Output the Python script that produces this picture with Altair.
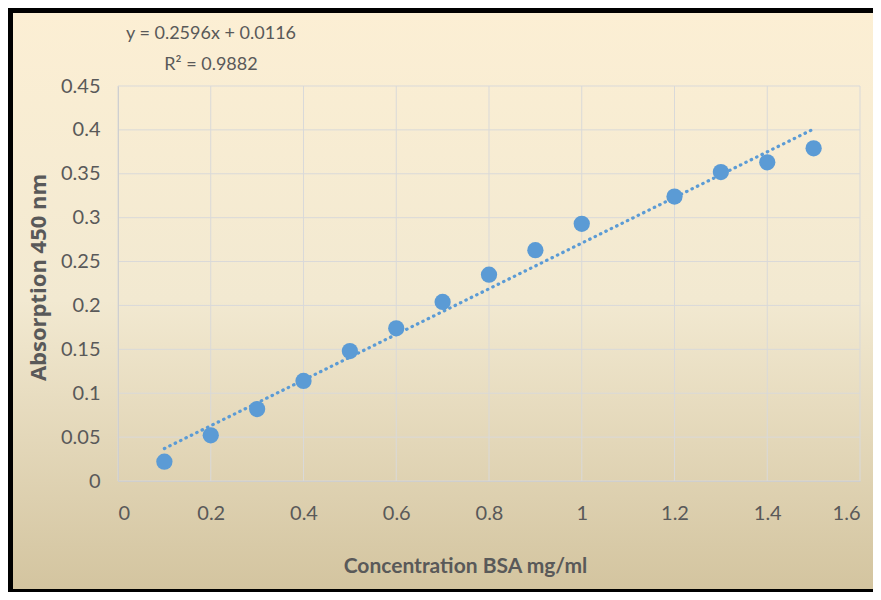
import altair as alt
import pandas as pd

# Data
conc = [0.1, 0.2, 0.3, 0.4, 0.5, 0.6, 0.7, 0.8, 0.9, 1.0, 1.2, 1.3, 1.4, 1.5]
absorb = [0.022, 0.052, 0.082, 0.114, 0.148, 0.174, 0.204, 0.235, 0.263, 0.293,
          0.324, 0.352, 0.363, 0.379]
trend_x = [0.1, 1.5]
trend_y = [0.037, 0.401]
x_ticks = [0, 0.2, 0.4, 0.6, 0.8, 1.0, 1.2, 1.4, 1.6]
y_ticks = [0, 0.05, 0.1, 0.15, 0.2, 0.25, 0.3, 0.35, 0.4, 0.45]
eq_line1 = "y = 0.2596x + 0.0116"
eq_line2 = "R² = 0.9882"

W, H = 742, 395
PAD = {"left": 110, "top": 78, "right": 13, "bottom": 111}
L, T = -PAD["left"], -PAD["top"]
R, B = W + PAD["right"], H + PAD["bottom"]

FONT = "Lato, sans-serif"
TXT = "#595959"
BLUE = "#5B9BD5"

pts = pd.DataFrame({"x": conc, "y": absorb})
trend = pd.DataFrame({"x": trend_x, "y": trend_y})
xg = pd.DataFrame({"x": x_ticks})
yg = pd.DataFrame({"y": y_ticks})
one = pd.DataFrame({"a": [0]})

xs = alt.Scale(domain=[0, 1.6], nice=False, zero=False)
ys = alt.Scale(domain=[0, 0.45], nice=False, zero=False)

xaxis = alt.Axis(values=x_ticks, format="~g", grid=False, ticks=False,
                 tickSize=0, domain=True, domainColor="#CFCFCF",
                 labelPadding=22, titleX=347, titleY=85,
                 titleBaseline="middle", titleAlign="center", zindex=1)
yaxis = alt.Axis(values=y_ticks, format="~g", grid=False, ticks=False,
                 tickSize=0, domain=True, domainColor="#CFCFCF",
                 labelPadding=18, titleX=-80, titleY=191,
                 titleBaseline="middle", titleAlign="center",
                 titleAngle=270, zindex=1)

bg = alt.Chart(one).mark_rect(
    fill=alt.Gradient(
        gradient="linear", x1=0, y1=0, x2=0, y2=1,
        stops=[alt.GradientStop(offset=0, color="#FCEFD4"),
               alt.GradientStop(offset=0.5, color="#F2E9D1"),
               alt.GradientStop(offset=1, color="#D3C49F")]),
).encode(x=alt.value(L), x2=alt.value(R), y=alt.value(T), y2=alt.value(B))

border_top = alt.Chart(one).mark_rect(color="#000000").encode(
    x=alt.value(L), x2=alt.value(R), y=alt.value(T), y2=alt.value(T + 5))
border_left = alt.Chart(one).mark_rect(color="#000000").encode(
    x=alt.value(L), x2=alt.value(L + 5), y=alt.value(T), y2=alt.value(B))
border_bottom = alt.Chart(one).mark_rect(color="#000000").encode(
    x=alt.value(L), x2=alt.value(R), y=alt.value(B - 3), y2=alt.value(B))

xgrid = alt.Chart(xg).mark_rule(color="#D9D9D9", strokeWidth=1).encode(
    x=alt.X("x:Q", scale=xs, title="Concentration BSA mg/ml", axis=xaxis),
    y=alt.value(0), y2=alt.value(H))
ygrid = alt.Chart(yg).mark_rule(color="#D9D9D9", strokeWidth=1).encode(
    y=alt.Y("y:Q", scale=ys, title="Absorption 450 nm", axis=yaxis),
    x=alt.value(0), x2=alt.value(W))

line = alt.Chart(trend).mark_line(
    color=BLUE, strokeWidth=3.2, strokeDash=[0.5, 5.5], strokeCap="round"
).encode(x=alt.X("x:Q", scale=xs, title="Concentration BSA mg/ml", axis=xaxis),
         y=alt.Y("y:Q", scale=ys, title="Absorption 450 nm", axis=yaxis))

points = alt.Chart(pts).mark_point(
    filled=True, shape="circle", size=265, color=BLUE, opacity=1
).encode(
    x=alt.X("x:Q", scale=xs, title="Concentration BSA mg/ml", axis=xaxis),
    y=alt.Y("y:Q", scale=ys, title="Absorption 450 nm", axis=yaxis),
)

eq1 = alt.Chart(one).mark_text(
    font=FONT, fontSize=18, color=TXT, align="center", baseline="middle",
    text=eq_line1).encode(x=alt.value(93), y=alt.value(-52))
eq2 = alt.Chart(one).mark_text(
    font=FONT, fontSize=18, color=TXT, align="center", baseline="middle",
    text=eq_line2).encode(x=alt.value(93), y=alt.value(-21))

chart = alt.layer(bg, border_top, border_left, border_bottom,
                  xgrid, ygrid, line, points, eq1, eq2).properties(
    width=W, height=H, padding=PAD,
    autosize=alt.AutoSizeParams(type="none"),
    background="#EBE0C3",
).configure_view(stroke=None).configure_axis(
    labelFont=FONT, labelFontSize=20, labelColor=TXT,
    titleFont="'Open Sans', sans-serif", titleFontSize=22,
    titleFontWeight="bold", titleColor=TXT,
).configure_axisX(titleFont="Lato, sans-serif", titleFontSize=21)

chart.save("out.html", embed_options={"renderer": "svg", "actions": False})
